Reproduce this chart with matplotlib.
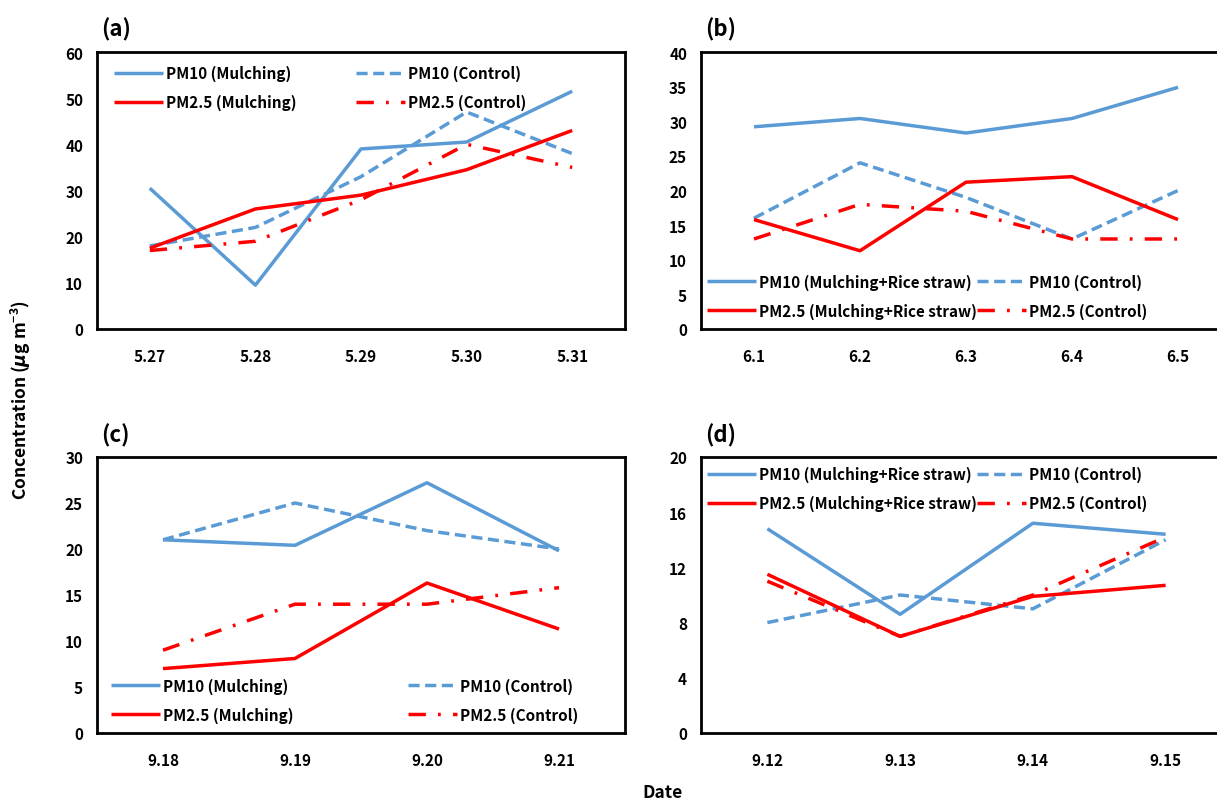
import matplotlib
matplotlib.use("Agg")
import matplotlib.pyplot as plt

plt.rcParams['font.family'] = ['Noto Sans CJK KR', 'DejaVu Sans']
plt.rcParams['mathtext.fontset'] = 'custom'
plt.rcParams['mathtext.rm'] = 'Noto Sans CJK KR:bold'
plt.rcParams['mathtext.it'] = 'DejaVu Sans:italic:bold'

# Panel (a)
dates_a = ['5.27', '5.28', '5.29', '5.30', '5.31']
pm10_mulch_a = [30.5, 9.5, 39, 40.5, 51.5]
pm10_ctrl_a = [18, 22, 33, 47, 38]
pm25_mulch_a = [17.5, 26, 29, 34.5, 43]
pm25_ctrl_a = [17, 19, 28, 40, 35]

# Panel (b)
dates_b = ['6.1', '6.2', '6.3', '6.4', '6.5']
pm10_mulch_b = [29.2, 30.4, 28.3, 30.4, 34.9]
pm10_ctrl_b = [16, 24, 19, 13, 20]
pm25_mulch_b = [15.8, 11.3, 21.2, 22, 15.8]
pm25_ctrl_b = [13, 18, 17, 13, 13]

# Panel (c)
dates_c = ['9.18', '9.19', '9.20', '9.21']
pm10_mulch_c = [21, 20.4, 27.2, 19.8]
pm10_ctrl_c = [21, 25, 22, 20]
pm25_mulch_c = [7, 8.1, 16.3, 11.3]
pm25_ctrl_c = [9, 14, 14, 15.8]

# Panel (d)
dates_d = ['9.12', '9.13', '9.14', '9.15']
pm10_mulch_d = [14.8, 8.6, 15.2, 14.4]
pm10_ctrl_d = [8, 10, 9, 14]
pm25_mulch_d = [11.5, 7, 9.9, 10.7]
pm25_ctrl_d = [11, 7, 10, 14.2]

BLUE = '#5B9BD5'
RED = '#FF0000'
W, H = 1217, 804

fig = plt.figure(figsize=(W / 100, H / 100), dpi=100)


def add_ax(left, top, right, bottom):
    return fig.add_axes([left / W, 1 - bottom / H, (right - left) / W, (bottom - top) / H])


def panel(ax, dates, s10m, s10c, s25m, s25c, ymax, ystep, lab_m, label, leg_loc, colsp):
    x = list(range(len(dates)))
    l1, = ax.plot(x, s10m, color=BLUE, lw=2.5, solid_capstyle='butt')
    l2, = ax.plot(x, s10c, color=BLUE, lw=2.5, linestyle=(0, (3.2, 1.6)))
    l3, = ax.plot(x, s25m, color=RED, lw=2.5, solid_capstyle='butt')
    l4, = ax.plot(x, s25c, color=RED, lw=2.5, linestyle=(0, (5, 3.5, 0.8, 3.5)))
    ax.set_xlim(-0.5, len(dates) - 0.5)
    ax.set_ylim(0, ymax)
    ax.set_xticks(x)
    ax.set_xticklabels(dates)
    ax.set_yticks(list(range(0, ymax + 1, ystep)))
    ax.tick_params(length=0, labelsize=11, pad=10)
    ax.tick_params(axis='x', pad=14)
    for t in ax.get_xticklabels() + ax.get_yticklabels():
        t.set_fontweight('bold')
    for s in ax.spines.values():
        s.set_linewidth(2.0)
        s.set_color('black')
    ax.text(0.008, 1.04, label, transform=ax.transAxes, fontsize=16,
            fontweight='bold', ha='left', va='bottom')
    handles = [l1, l2, l3, l4]
    labels = ['PM10 (%s)' % lab_m, 'PM10 (Control)', 'PM2.5 (%s)' % lab_m, 'PM2.5 (Control)']
    # column-first layout: col1 = mulching series, col2 = control series
    order = [0, 2, 1, 3]
    leg = ax.legend([handles[i] for i in order], [labels[i] for i in order],
                    ncol=2, frameon=False, prop={'size': 11, 'weight': 'bold'},
                    handlelength=3.2, handletextpad=0.2, columnspacing=colsp,
                    labelspacing=0.85, borderaxespad=0.0, **leg_loc)
    return leg


axa = add_ax(97, 53, 625, 330)
panel(axa, dates_a, pm10_mulch_a, pm10_ctrl_a, pm25_mulch_a, pm25_ctrl_a, 60, 10,
      'Mulching', '(a)', dict(loc='upper left', bbox_to_anchor=(0.02, 0.975)), 3.9)

axb = add_ax(701, 53, 1231, 330)
panel(axb, dates_b, pm10_mulch_b, pm10_ctrl_b, pm25_mulch_b, pm25_ctrl_b, 40, 5,
      'Mulching+Rice straw', '(b)', dict(loc='lower left', bbox_to_anchor=(0.0, 0.015)), 0.0)

axc = add_ax(97, 458, 625, 734)
panel(axc, dates_c, pm10_mulch_c, pm10_ctrl_c, pm25_mulch_c, pm25_ctrl_c, 30, 5,
      'Mulching', '(c)', dict(loc='lower left', bbox_to_anchor=(0.015, 0.015)), 7.5)

axd = add_ax(701, 458, 1232, 734)
panel(axd, dates_d, pm10_mulch_d, pm10_ctrl_d, pm25_mulch_d, pm25_ctrl_d, 20, 4,
      'Mulching+Rice straw', '(d)', dict(loc='upper left', bbox_to_anchor=(0.0, 0.99)), 0.0)

fig.text(21 / W, 1 - 400 / H, r'Concentration ($\mu$g m$^{-3}$)', rotation=90,
         ha='center', va='center', fontsize=12.5, fontweight='bold')
fig.text(663 / W, 1 - 793 / H, 'Date', ha='center', va='center', fontsize=12.5,
         fontweight='bold')

fig.savefig('out.png', dpi=100)
